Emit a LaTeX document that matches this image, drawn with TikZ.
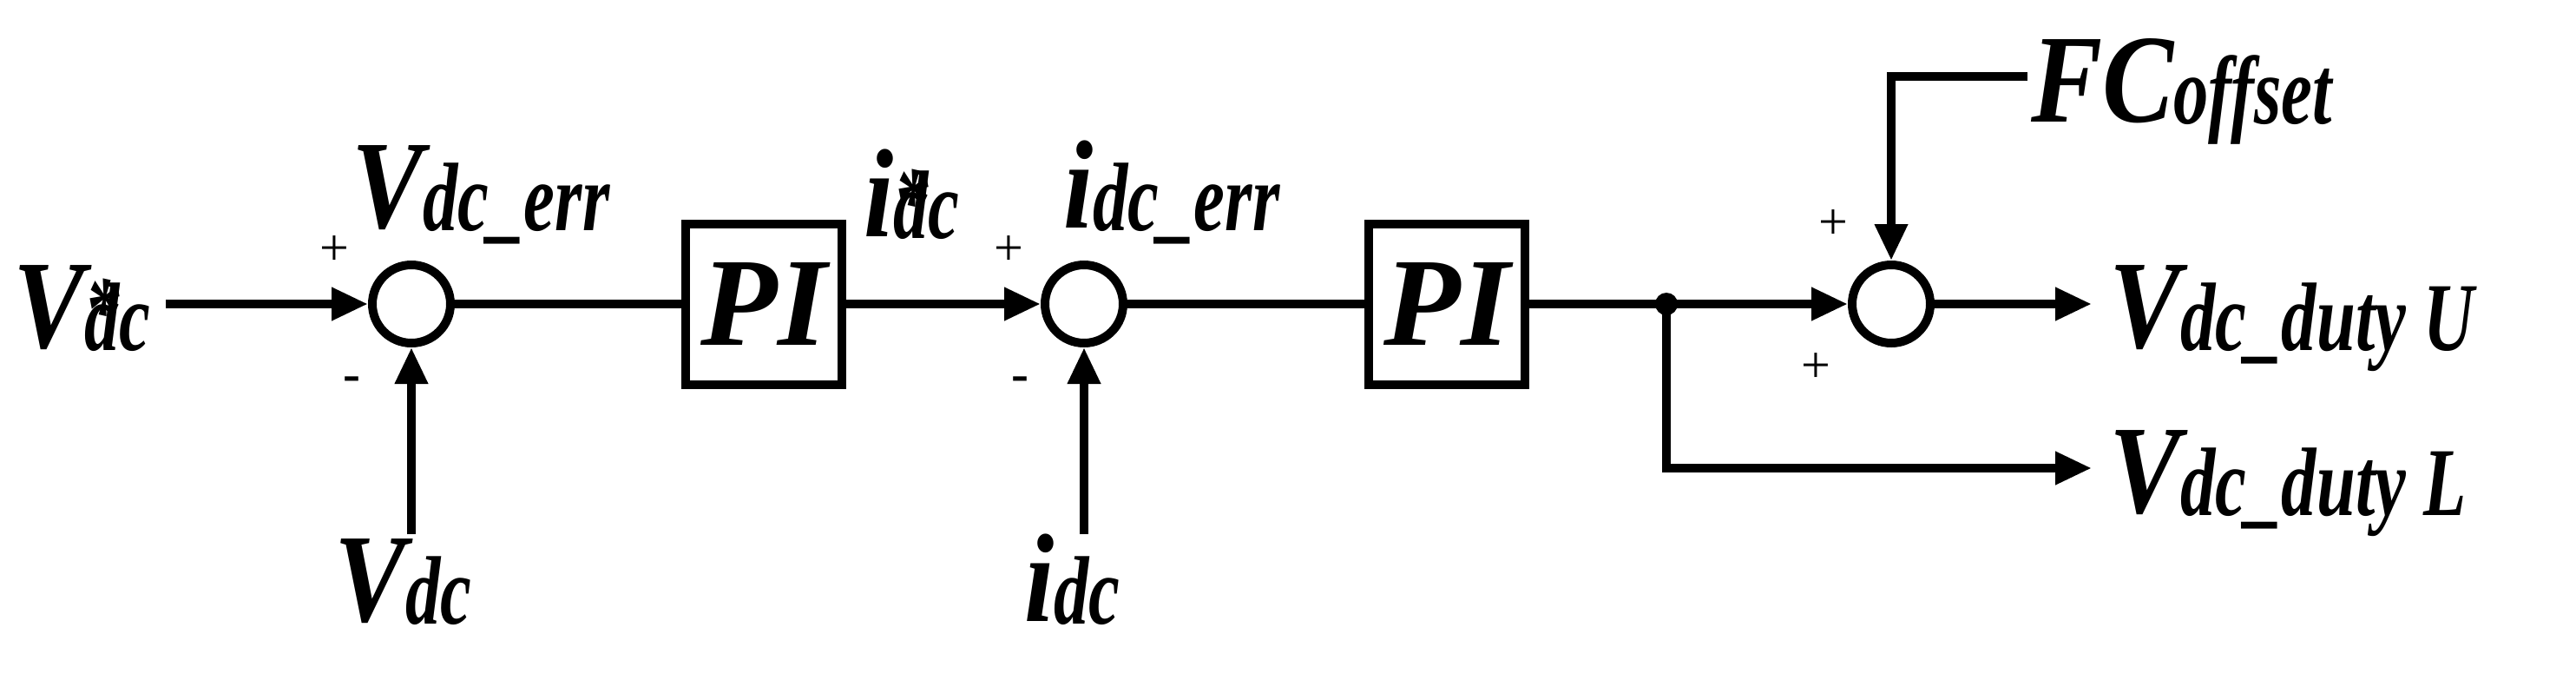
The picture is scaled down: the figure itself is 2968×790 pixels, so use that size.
\documentclass[tikz,border=0pt]{standalone}
\usepackage{fontspec}
\setmainfont{Liberation Serif}
\usetikzlibrary{arrows.meta}
\newcommand{\bgf}{\fontsize{145}{145}\selectfont\bfseries\itshape}
\newcommand{\smf}{\fontsize{112}{112}\selectfont\bfseries\itshape}
\newcommand{\pmf}{\fontsize{60}{60}\selectfont}
\newcommand{\Nb}[1]{\scalebox{0.85}[1]{\bgf #1}}
\newcommand{\Ns}[1]{\scalebox{0.72}[1]{\smf #1}}
\tikzset{
  ln/.style={line width=10pt},
  ar/.style={line width=10pt,-{Triangle[length=42pt,width=36pt]}},
  sumc/.style={circle,draw,line width=10pt,minimum size=90pt,inner sep=0pt},
  pibox/.style={draw,line width=10pt,minimum width=180pt,minimum height=185pt,inner sep=0pt,font=\bgf},
  lbl/.style={anchor=base west,inner sep=0pt},
}
\begin{document}
\begin{tikzpicture}[x=1pt,y=-1pt]
\useasboundingbox (0,0) rectangle (2968,790);
\node[sumc] (s1) at (474,350) {};
\node[pibox] (p1) at (880,350) {\raisebox{-0.25em}{PI}};
\node[sumc] (s2) at (1249,350) {};
\node[pibox] (p2) at (1667,350) {\raisebox{-0.25em}{PI}};
\coordinate (j) at (1920,350);
\node[sumc] (s3) at (2179,350) {};
\coordinate (in1) at (191,350);
\coordinate (b1) at (474,615);
\coordinate (b2) at (1249,615);
\coordinate (fc) at (2336,88);
\coordinate (ou) at (2410,350);
\coordinate (ol) at (2410,539);
\draw[ar] (in1) -- (s1.west);
\draw[ar] (b1) -- (s1.south);
\draw[ln] (s1.east) -- (p1.west);
\draw[ar] (p1.east) -- (s2.west);
\draw[ar] (b2) -- (s2.south);
\draw[ln] (s2.east) -- (p2.west);
\draw[ln] (p2.east) -- (j);
\draw[ar] (j) -- (s3.west);
\draw[ar] (fc) -| (s3.north);
\draw[ar] (s3.east) -- (ou);
\draw[ar] (j) |- (ol);
\fill (j) circle (13pt);
% labels
\node[lbl] (t1) at (15,400) {\Nb{V}\rlap{\raisebox{0.42em}{\Ns{*}}}\raisebox{-0.35em}{\Ns{dc}}};
\node[lbl] (t2) at (405,262) {\Nb{V}\raisebox{-0.3em}{\Ns{dc\_err}}};
\node[lbl] (t3) at (995,272) {\Nb{i}\rlap{\raisebox{0.22em}{\Ns{*}}}\raisebox{-0.2em}{\Ns{dc}}};
\node[lbl] (t4) at (1225,262) {\Nb{i}\raisebox{-0.3em}{\Ns{dc\_err}}};
\node[lbl] (t5) at (385,715) {\Nb{V}\raisebox{-0.3em}{\Ns{dc}}};
\node[lbl] (t6) at (1180,715) {\Nb{i}\raisebox{-0.3em}{\Ns{dc}}};
\node[lbl] (t7) at (2340,140) {\Nb{FC}\raisebox{-0.2em}{\Ns{offset}}};
\node[lbl] (t8) at (2430,400) {\Nb{V}\raisebox{-0.35em}{\Ns{dc\_duty U}}};
\node[lbl] (t9) at (2430,590) {\Nb{V}\raisebox{-0.35em}{\Ns{dc\_duty L}}};
\node[lbl] (m1) at (368,305) {\pmf +};
\node[lbl] (m2) at (395,450) {\bfseries\pmf -};
\node[lbl] (m3) at (1145,305) {\pmf +};
\node[lbl] (m4) at (1165,450) {\bfseries\pmf -};
\node[lbl] (m5) at (2095,275) {\pmf +};
\node[lbl] (m6) at (2075,440) {\pmf +};
\end{tikzpicture}
\end{document}
